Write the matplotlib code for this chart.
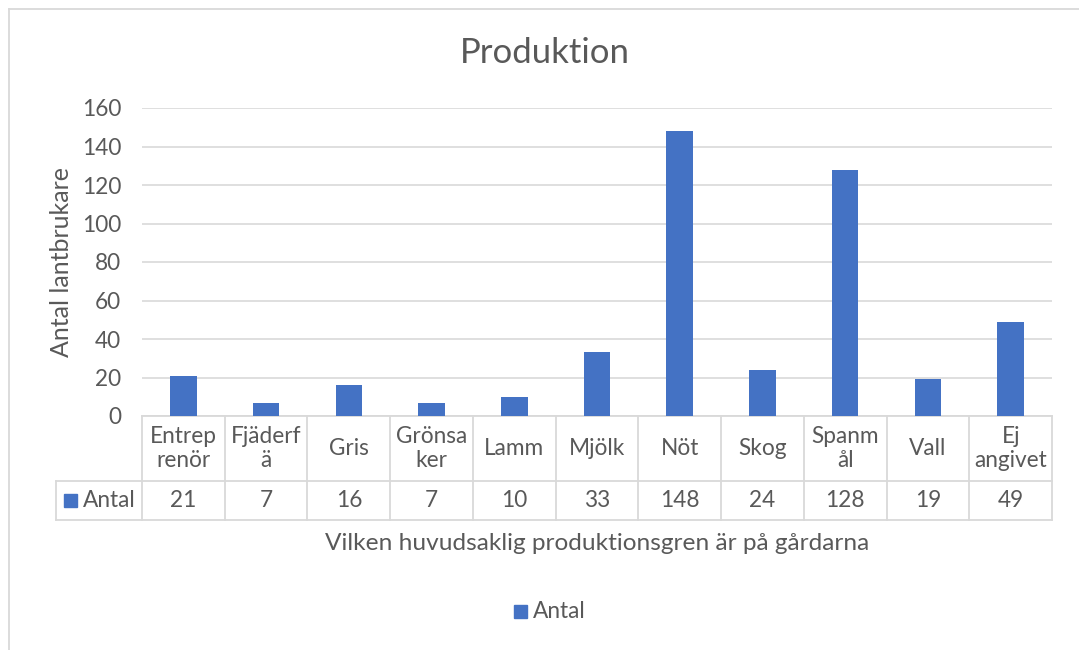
import matplotlib
matplotlib.use("Agg")
import matplotlib.pyplot as plt
from matplotlib.lines import Line2D
from matplotlib.patches import Rectangle
import matplotlib.transforms as mtransforms

# Data
categories = ["Entrep\nrenör", "Fjäderf\nä", "Gris", "Grönsa\nker", "Lamm", "Mjölk",
              "Nöt", "Skog", "Spanm\nål", "Vall", "Ej\nangivet"]
values = [21, 7, 16, 7, 10, 33, 148, 24, 128, 19, 49]
series_name = "Antal"
yticks = [0, 20, 40, 60, 80, 100, 120, 140, 160]

BAR = "#4472C4"
TXT = "#595959"
GRID = "#D9D9D9"
FS = 16.3

plt.rcParams["font.family"] = ["Lato", "DejaVu Sans"]

W, H = 1079, 650
fig = plt.figure(figsize=(W / 100, H / 100), dpi=100)

# plot area in pixels
px_l, px_r, px_t, px_b = 142, 1052, 108, 416
ax = fig.add_axes([px_l / W, 1 - px_b / H, (px_r - px_l) / W, (px_b - px_t) / H])

n = len(categories)
xs = list(range(n))
ax.bar(xs, values, width=0.32, color=BAR, zorder=3)
ax.set_xlim(-0.5, n - 0.5)
ax.set_ylim(0, 160)
ax.set_yticks(yticks)
ax.yaxis.grid(True, color=GRID, lw=1.2, zorder=0)
ax.set_xticks([])
for s in ax.spines.values():
    s.set_visible(False)
ax.tick_params(axis="y", length=0, pad=15, labelsize=FS, labelcolor=TXT)
ax.set_ylabel("Antal lantbrukare", fontsize=18, color=TXT, labelpad=6)

# data table below the plot
def fy(py):
    # pixel row -> axes fraction
    return (px_b - py) / (px_b - px_t)

row1_bot = fy(481)
row2_bot = fy(520)
trans = mtransforms.blended_transform_factory(ax.transData, ax.transAxes)
fig_px = mtransforms.blended_transform_factory(
    mtransforms.Affine2D().scale(1.0 / W) + fig.transFigure, ax.transAxes)

lk = dict(color=GRID, lw=1.3, clip_on=False, zorder=1)
# horizontal lines
ax.add_line(Line2D([-0.5, n - 0.5], [0, 0], transform=trans, **lk))
ax.add_line(Line2D([-0.5, n - 0.5], [row1_bot, row1_bot], transform=trans, **lk))
ax.add_line(Line2D([-0.5, n - 0.5], [row2_bot, row2_bot], transform=trans, **lk))
ax.add_line(Line2D([56, px_l], [row1_bot, row1_bot], transform=fig_px, **lk))
ax.add_line(Line2D([56, px_l], [row2_bot, row2_bot], transform=fig_px, **lk))
ax.add_line(Line2D([56, 56], [row1_bot, row2_bot], transform=fig_px, **lk))
# vertical lines
for b in [i - 0.5 for i in range(n + 1)]:
    ax.add_line(Line2D([b, b], [0, row2_bot], transform=trans, **lk))

for i, (c, v) in enumerate(zip(categories, values)):
    ax.text(i, (0 + row1_bot) / 2, c, transform=trans, ha="center", va="center",
            fontsize=FS, color=TXT, linespacing=1.2)
    ax.text(i, (row1_bot + row2_bot) / 2, str(v), transform=trans, ha="center",
            va="center", fontsize=FS, color=TXT)

# legend key inside the table
ymid = (row1_bot + row2_bot) / 2
ax.add_patch(Rectangle((64, ymid - 6.5 / (px_b - px_t)), 13, 13 / (px_b - px_t),
                       transform=fig_px, color=BAR, clip_on=False))
ax.text(83, ymid, series_name, transform=fig_px, ha="left", va="center",
        fontsize=FS, color=TXT)

# title, axis title and legend
fig.text(545 / W, 1 - 53 / H, "Produktion", ha="center", va="center",
         fontsize=25, color=TXT)
fig.text((px_l + px_r) / 2 / W, 1 - 543 / H,
         "Vilken huvudsaklig produktionsgren är på gårdarna",
         ha="center", va="center", fontsize=17.6, color=TXT)
fig.patches.append(Rectangle((514 / W, 1 - 618 / H), 13 / W, 13 / H,
                             transform=fig.transFigure, color=BAR))
fig.text(533 / W, 1 - 611 / H, series_name, ha="left", va="center",
         fontsize=FS, color=TXT)

# outer chart border (left and top edges)
fig.add_artist(Line2D([9 / W, 9 / W], [0, 1 - 9 / H], transform=fig.transFigure,
                      color=GRID, lw=1.3))
fig.add_artist(Line2D([9 / W, 1], [1 - 9 / H, 1 - 9 / H], transform=fig.transFigure,
                      color=GRID, lw=1.3))

fig.savefig("out.png", dpi=100, facecolor="white")
